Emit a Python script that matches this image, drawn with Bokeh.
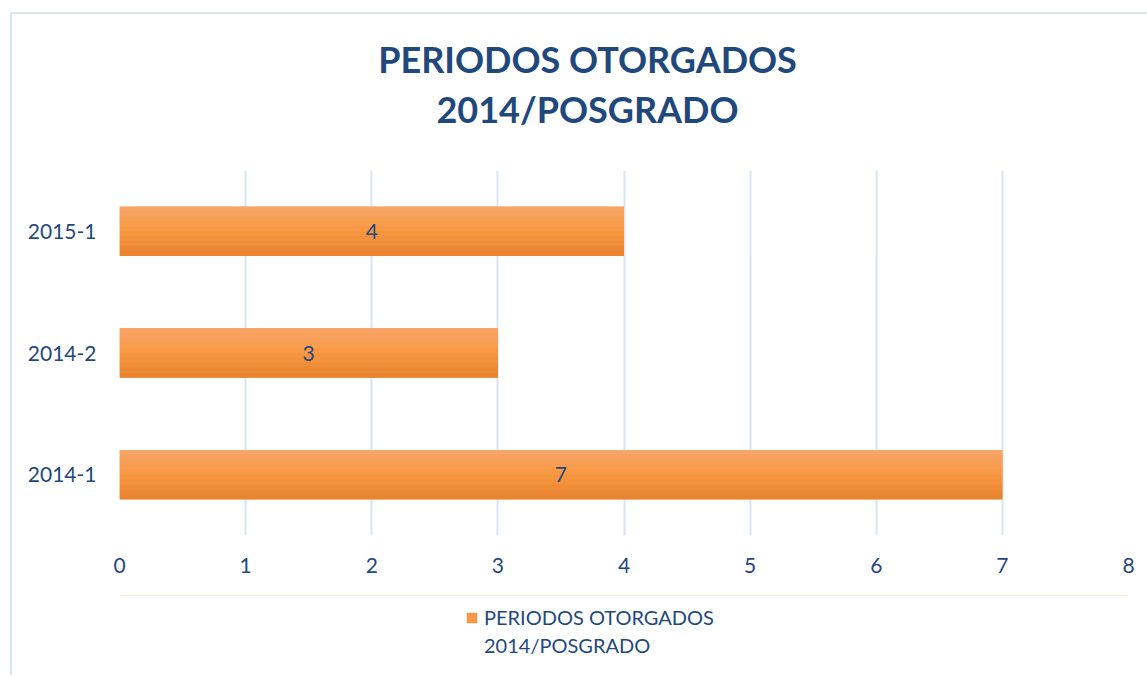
from bokeh.plotting import figure
from bokeh.layouts import column
from bokeh.models import (ColumnDataSource, Legend, LegendItem, LabelSet, FixedTicker,
                          Range1d)
from bokeh.core.properties import value
from bokeh.transform import dodge
from bokeh.embed import file_html
from bokeh.resources import INLINE

categories = ["2014-1", "2014-2", "2015-1"]
values = [7, 3, 4]
series_lines = ["PERIODOS OTORGADOS", "2014/POSGRADO"]
title_lines = ["PERIODOS OTORGADOS", "2014/POSGRADO"]
x_ticks = [0, 1, 2, 3, 4, 5, 6, 7, 8]

DARK = "#1F497D"
ORANGE = "#F79646"
FONT = "Lato"
BAR_H = 0.405
W = 1147
LEFT, RIGHT = 119, 19


def bare(fig):
    fig.grid.visible = False
    fig.outline_line_color = None
    fig.border_fill_color = None
    fig.background_fill_color = None
    fig.min_border_top = 0
    fig.min_border_bottom = 0
    fig.min_border_left = LEFT
    fig.min_border_right = RIGHT


# ---------- title strip ----------
top = figure(width=W, height=160, x_range=Range1d(LEFT, W - RIGHT), y_range=Range1d(160, 0),
             x_axis_location=None, y_axis_location=None,
             output_backend="svg", toolbar_location=None, title=None)
bare(top)
tsrc = ColumnDataSource(dict(x=[587, 587], y=[58, 108], t=title_lines))
top.text(x="x", y="y", text="t", source=tsrc, text_align="center",
         text_baseline="alphabetic", text_font=value(FONT), text_font_size="36px",
         text_font_style="bold", text_color=DARK)

# ---------- main chart ----------
src = ColumnDataSource(dict(cat=categories, val=values, mid=[v / 2 for v in values],
                            lab=[str(v) for v in values]))

p = figure(y_range=categories, x_range=(0, 8),
           frame_width=1009, frame_height=365,
           output_backend="svg", toolbar_location=None, title=None,
           min_border_left=LEFT, min_border_right=RIGHT, min_border_top=10, min_border_bottom=60,
           border_fill_color=None, background_fill_color=None)

p.hbar(y="cat", right="val", left=0, height=BAR_H, source=src,
       fill_color="#F6923F", line_color=None)
bands = 10
top_c = (0xF9, 0xA6, 0x6A)
mid_c = (0xF8, 0x98, 0x42)
bot_c = (0xE8, 0x82, 0x2E)
for i in range(bands):
    f = (i + 0.5) / bands
    if f < 0.5:
        g = f / 0.5
        c = tuple(int(top_c[k] + (mid_c[k] - top_c[k]) * g) for k in range(3))
    else:
        g = (f - 0.5) / 0.5
        c = tuple(int(mid_c[k] + (bot_c[k] - mid_c[k]) * g) for k in range(3))
    off = BAR_H / 2 - (i + 0.5) * BAR_H / bands
    p.hbar(y=dodge("cat", off, range=p.y_range), right="val", left=0,
           height=BAR_H / bands * 1.05, source=src,
           fill_color="#%02X%02X%02X" % c, line_color=None)

labels = LabelSet(x="mid", y="cat", text="lab", source=src, text_align="center",
                  text_baseline="middle", text_color=DARK, text_font=value(FONT),
                  text_font_size=value("21px"))
p.add_layout(labels)

p.outline_line_color = None
p.ygrid.grid_line_color = None
p.xgrid.grid_line_color = "#D9E4F3"
p.xgrid.grid_line_width = 2
p.xaxis.ticker = FixedTicker(ticks=x_ticks)

for ax in (p.xaxis, p.yaxis):
    ax.axis_line_color = None
    ax.major_tick_line_color = None
    ax.minor_tick_line_color = None
    ax.major_label_text_color = DARK
    ax.major_label_text_font = FONT
    ax.major_label_text_font_size = "21px"
p.xaxis.major_label_standoff = 16
p.yaxis.major_label_standoff = 17

# ---------- legend strip ----------
leg = figure(width=W, height=80, x_range=Range1d(0, 1), y_range=Range1d(0, 1),
             x_axis_location=None, y_axis_location=None,
             output_backend="svg", toolbar_location=None, title=None)
bare(leg)
# legend swatch renderers (their single datum lies outside the visible range)
swatch = leg.hbar(y=[10], right=[1], left=[0], height=1, fill_color=ORANGE, line_color=None)
ghost = leg.hbar(y=[10], right=[1], left=[0], height=1, fill_alpha=0, line_alpha=0)
legend = Legend(items=[LegendItem(label=series_lines[0], renderers=[swatch]),
                       LegendItem(label=series_lines[1], renderers=[ghost])],
                location=(465 - LEFT, 16), orientation="vertical",
                label_text_font=FONT, label_text_font_size="20px",
                label_text_color=DARK, border_line_color=None,
                background_fill_color=None, background_fill_alpha=0,
                spacing=0, label_standoff=6, label_height=28,
                glyph_width=13, glyph_height=13, margin=0, padding=0)
leg.add_layout(legend)

layout = column(top, p, leg, spacing=0)
layout.styles = {"background": "linear-gradient(#DAE5F4,#DAE5F4) 10px 12px / 2px 100% no-repeat, "
                               "linear-gradient(#DAE5F4,#DAE5F4) 10px 12px / 100% 2px no-repeat, white"}

open("out.html", "w").write(file_html(layout, INLINE))
